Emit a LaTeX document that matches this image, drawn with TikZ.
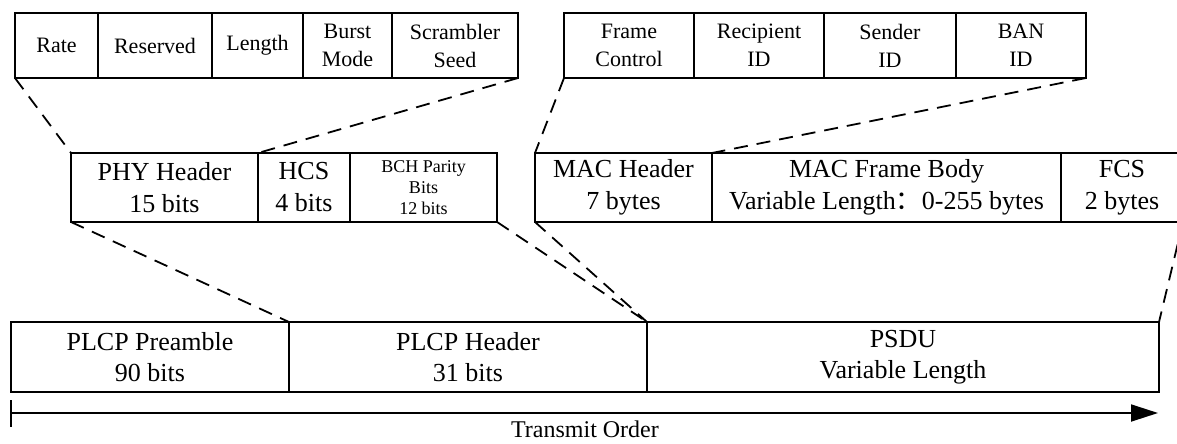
\documentclass[tikz,border=0pt]{standalone}
\usepackage{fontspec}
\setmainfont{Liberation Serif}
\newfontfamily\cjkfont{Noto Sans CJK SC}
\usetikzlibrary{arrows.meta}
\begin{document}
\begin{tikzpicture}[x=1pt,y=-1pt,
  cell/.style={draw, line width=1.8pt, inner sep=0pt, outer sep=0pt, align=center},
  toprow/.style={cell, minimum height=65pt, font=\fontsize{22}{28}\selectfont},
  midrow/.style={cell, minimum height=69pt, font=\fontsize{26}{32}\selectfont},
  botrow/.style={cell, minimum height=70pt, font=\fontsize{26}{31}\selectfont},
  zoomline/.style={line width=1.8pt, dash pattern=on 14pt off 9pt},
  axis/.style={line width=1.8pt}]
\useasboundingbox (0,0) rectangle (1177,444);
% top-left row
\node[toprow, minimum width=83pt]  (rate)  at (56.5,45.5) {Rate};
\node[toprow, minimum width=114pt] (res)   at (155,45.5)  {Reserved};
\node[toprow, minimum width=91pt]  (len)   at (257.5,45.5) {Length};
\node[toprow, minimum width=89pt]  (burst) at (347.5,45.5) {Burst\\Mode};
\node[toprow, minimum width=126pt] (scr)   at (455,45.5)  {Scrambler\\Seed};
% top-right row
\node[toprow, minimum width=130pt] (fc)    at (629,45.5)  {Frame\\Control};
\node[toprow, minimum width=130pt] (rid)   at (759,45.5)  {Recipient\\ID};
\node[toprow, minimum width=132pt] (sid)   at (890,45.5)  {Sender\\ID};
\node[toprow, minimum width=130pt] (ban)   at (1021,45.5) {BAN\\ID};
% middle-left row
\node[midrow, minimum width=187pt] (phy)   at (164.5,187.5) {PHY Header\\15 bits};
\node[midrow, minimum width=92pt]  (hcs)   at (304,187.5)   {HCS\\4 bits};
\node[midrow, minimum width=147pt, font=\fontsize{18}{21}\selectfont] (bch) at (423.5,187.5) {BCH Parity\\Bits\\12 bits};
% middle-right row
\node[midrow, minimum width=177pt] (mh)    at (623.5,187.5) {MAC Header\\7 bytes};
\node[midrow, minimum width=349pt] (body)  at (886.5,187.5) {MAC Frame Body\\Variable Length{\cjkfont ：}0-255 bytes};
\node[midrow, minimum width=122pt] (fcs)   at (1122,187.5)  {FCS\\2 bytes};
% bottom row
\node[botrow, minimum width=278pt] (pre)   at (150,357)  {PLCP Preamble\\90 bits};
\node[botrow, minimum width=358pt] (ph)    at (468,357)  {PLCP Header\\31 bits};
\node[botrow, minimum width=512pt] (psdu)  at (903,357)  {PSDU\\Variable Length};
% zoom lines
\draw[zoomline] (rate.south west) -- (phy.north west);
\draw[zoomline] (scr.south east) -- (phy.north east);
\draw[zoomline] (fc.south west) -- (mh.north west);
\draw[zoomline] (ban.south east) -- (mh.north east);
\draw[zoomline] (phy.south west) -- (pre.north east);
\draw[zoomline] (bch.south east) -- (ph.north east);
\draw[zoomline] (mh.south west) -- (psdu.north west);
\draw[zoomline] (fcs.south east) -- (psdu.north east);
% transmit order axis
\coordinate (ttop) at (11,400);
\coordinate (tbot) at (11,427);
\coordinate (astart) at (11,413);
\coordinate (aend) at (1158,413);
\draw[axis] (ttop) -- (tbot);
\draw[axis, -{Triangle[length=27pt,width=17pt]}] (astart) -- (aend);
\node[anchor=base, font=\fontsize{24}{30}\selectfont, inner sep=0pt] (tord) at (585,437) {Transmit Order};
\end{tikzpicture}
\end{document}
